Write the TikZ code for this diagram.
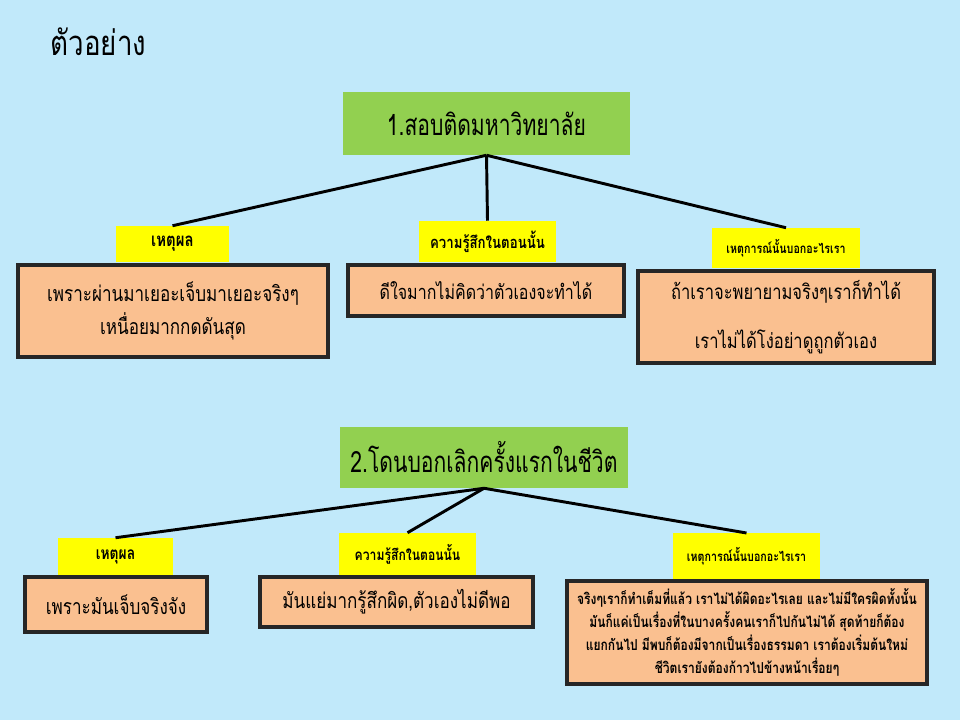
\documentclass[tikz,border=0pt]{standalone}
\usepackage{fontspec}
\newfontfamily\thai[Script=Thai,FakeStretch=0.8]{Loma}
\newfontfamily\thainarrow[Script=Thai,FakeStretch=0.72]{Loma}
\usetikzlibrary{shadows}
\definecolor{bgblue}{RGB}{193,233,250}
\definecolor{boxgreen}{RGB}{146,208,80}
\definecolor{boxyellow}{RGB}{255,255,0}
\definecolor{boxorange}{RGB}{250,192,144}
\definecolor{boxborder}{RGB}{38,38,38}
\tikzset{
  wh/.style 2 args={minimum width=#1*0.75pt, minimum height=#2*0.75pt},
  topic/.style={fill=boxgreen, inner sep=0pt, font=\thainarrow\fontsize{22}{26}\selectfont},
  tag/.style={fill=boxyellow, inner sep=0pt},
  tagfont/.style={font=\thai\bfseries\fontsize{#1}{#1}\selectfont},
  answer/.style={fill=boxorange, draw=boxborder, line width=3pt, inner sep=0pt, align=center,
    drop shadow={opacity=0.35, shadow xshift=1.5pt, shadow yshift=-1.5pt},
    font=\thai\fontsize{16}{25}\selectfont},
  link/.style={line width=2.2pt, black}
}
\begin{document}
\begin{tikzpicture}[x=0.75pt,y=-0.75pt]
\fill[bgblue] (0,0) rectangle (960,720);
\useasboundingbox (0,0) rectangle (960,720);
\node[anchor=west, font=\thai\fontsize{26}{30}\selectfont] (title) at (46,42) {ตัวอย่าง};
% group 1
\node[topic, wh={287}{63}] (g1) at (486.5,123.5) {1.สอบติดมหาวิทยาลัย};
\node[tag, tagfont=14, wh={113}{36}] (y1a) at (172.5,244) {เหตุผล};
\node[tag, tagfont=12.4, wh={137}{41}] (y1b) at (487.5,241.5) {ความรู้สึกในตอนนั้น};
\node[tag, tagfont=10, wh={148}{40}] (y1c) at (786,248) {เหตุการณ์นั้นบอกอะไรเรา};
\node[answer, wh={310}{92}] (o1a) at (173,311) {เพราะผ่านมาเยอะเจ็บมาเยอะจริงๆ\\เหนื่อยมากกดดันสุด};
\node[answer, wh={276}{51}, font=\thai\fontsize{15}{25}\selectfont] (o1b) at (486,290.5) {ดีใจมากไม่คิดว่าตัวเองจะทำได้};
\node[answer, wh={296}{92}, font=\thai\fontsize{15.5}{36.5}\selectfont] (o1c) at (786,317) {ถ้าเราจะพยายามจริงๆเราก็ทำได้\\เราไม่ได้โง่อย่าดูถูกตัวเอง};
\draw[link] (g1.south) -- (y1a.north);
\draw[link] (g1.south) -- (y1b.north);
\draw[link] (g1.south) -- (y1c.north);
% group 2
\node[topic, wh={288}{61}] (g2) at (484,457.5) {2.โดนบอกเลิกครั้งแรกในชีวิต};
\node[tag, tagfont=13, wh={115}{37}] (y2a) at (115.5,556.5) {เหตุผล};
\node[tag, tagfont=11.4, wh={137}{42}] (y2b) at (407.5,554) {ความรู้สึกในตอนนั้น};
\node[tag, tagfont=10, wh={147}{47}, anchor=north] (y2c) at (746.5,533) {\raisebox{3pt}{เหตุการณ์นั้นบอกอะไรเรา}};
\node[answer, wh={182}{55}] (o2a) at (116,604.5) {เพราะมันเจ็บจริงจัง};
\node[answer, wh={273}{50}] (o2b) at (396.5,602) {มันแย่มากรู้สึกผิด,ตัวเองไม่ดีพอ};
\node[answer, wh={360}{103}, font=\thai\bfseries\fontsize{11.3}{17.25}\selectfont] (o2c) at (747,632.5) {จริงๆเราก็ทำเต็มที่แล้ว เราไม่ได้ผิดอะไรเลย และไม่มีใครผิดทั้งนั้น\\มันก็แค่เป็นเรื่องที่ในบางครั้งคนเราก็ไปกันไม่ได้ สุดท้ายก็ต้อง\\แยกกันไป มีพบก็ต้องมีจากเป็นเรื่องธรรมดา เราต้องเริ่มต้นใหม่\\ชีวิตเรายังต้องก้าวไปข้างหน้าเรื่อยๆ};
\draw[link] (g2.south) -- (y2a.north);
\draw[link] (g2.south) -- (y2b.north);
\draw[link] (g2.south) -- (y2c.north);
\end{tikzpicture}
\end{document}
